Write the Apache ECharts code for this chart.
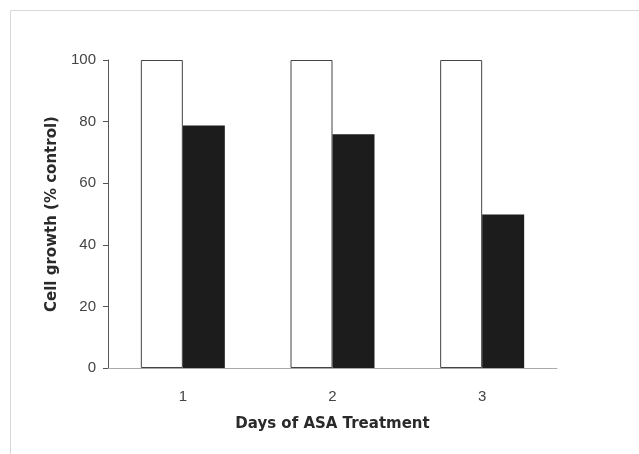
<!DOCTYPE html>
<html>
<head>
<meta charset="utf-8">
<script src="https://cdn.jsdelivr.net/npm/echarts@6/dist/echarts.min.js"></script>
<style>html,body{margin:0;padding:0;background:#fff}#c{width:639px;height:454px}</style>
</head>
<body>
<div id="c"></div>
<script>
const categories = ['1', '2', '3'];
const controlValues = [100, 100, 100];
const asaValues = [78.7, 75.9, 49.8];
const yTicks = [0, 20, 40, 60, 80, 100];

const chart = echarts.init(document.getElementById('c'), null, {renderer: 'canvas'});
chart.setOption({
  backgroundColor: '#fff',
  animation: false,
  graphic: [{
    type: 'rect', left: 8, top: 8, shape: {width: 640, height: 460},
    style: {fill: 'none', stroke: '#d8d8d8', lineWidth: 1}, silent: true
  }],
  grid: {left: 108, right: 82, top: 60, bottom: 86},
  xAxis: {
    type: 'category', data: categories,
    name: 'Days of ASA Treatment', nameLocation: 'middle', nameGap: 49,
    nameTextStyle: {fontFamily: 'DejaVu Sans', fontWeight: 'bold', fontSize: 15, color: '#2a2a2a'},
    axisLine: {show: true, lineStyle: {color: '#aaa', width: 1}},
    axisTick: {show: false},
    axisLabel: {fontFamily: '"Liberation Sans", Arial', fontSize: 15, color: '#444', margin: 21}
  },
  yAxis: {
    type: 'value', min: 0, max: 100, interval: 20,
    name: 'Cell growth (% control)', nameLocation: 'middle', nameGap: 43,
    nameTextStyle: {fontFamily: 'DejaVu Sans', fontWeight: 'bold', fontSize: 15, color: '#2a2a2a'},
    axisLine: {show: true, lineStyle: {color: '#555', width: 1}},
    axisTick: {show: true, inside: false, length: 5, lineStyle: {color: '#555'}},
    splitLine: {show: false},
    axisLabel: {fontFamily: '"Liberation Sans", Arial', fontSize: 15, color: '#444', margin: 12,
      formatter: v => yTicks.includes(v) ? String(v) : ''}
  },
  series: [
    {type: 'bar', data: controlValues, barWidth: 42, barGap: '0%',
     itemStyle: {color: '#fff', borderColor: '#444', borderWidth: 1}},
    {type: 'bar', data: asaValues, barWidth: 42, barGap: '0%',
     itemStyle: {color: '#1c1c1c', borderColor: '#1c1c1c', borderWidth: 0}}
  ]
});
</script>
</body>
</html>
